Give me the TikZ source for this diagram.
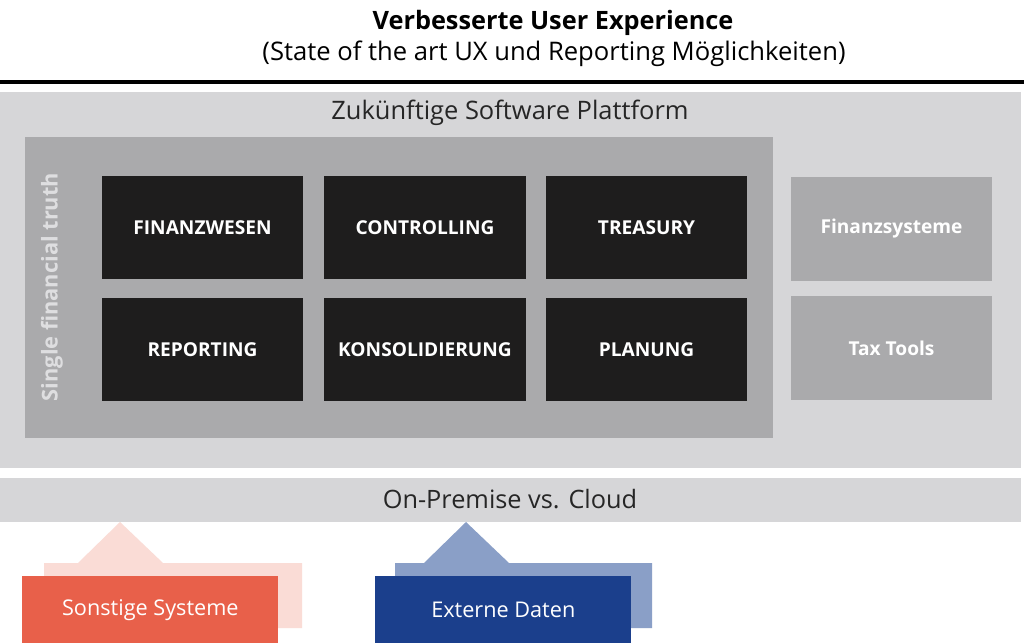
\documentclass[tikz,border=0pt]{standalone}
\usepackage{fontspec}
\setmainfont{Open Sans}
\usetikzlibrary{positioning}

\definecolor{lightgrey}{RGB}{214,214,216}
\definecolor{midgrey}{RGB}{170,170,172}
\definecolor{boxblack}{RGB}{30,29,29}
\definecolor{truthgrey}{RGB}{222,222,224}
\definecolor{sysred}{RGB}{232,96,74}
\definecolor{syspale}{RGB}{250,220,214}
\definecolor{datblue}{RGB}{27,63,140}
\definecolor{datpale}{RGB}{138,159,199}

\tikzset{
    modul/.style={fill=boxblack, text=white, font=\fontsize{13.6}{15}\selectfont\bfseries,
        minimum width=5.025cm, minimum height=2.575cm, inner sep=0pt},
    nebensys/.style={fill=midgrey, text=white, font=\fontsize{13.6}{15}\selectfont\bfseries,
        minimum width=5.025cm, minimum height=2.6cm, inner sep=0pt},
    quelle/.style={text=white, font=\fontsize{15.4}{17}\selectfont,
        minimum width=6.4cm, minimum height=1.7cm, inner sep=0pt, anchor=north west}
}

\begin{document}
\begin{tikzpicture}[x=0.025cm, y=-0.025cm]
    \useasboundingbox[fill=white] (0,0) rectangle (1024,643);

    % Headline
    \node[font=\fontsize{18}{20}\selectfont\bfseries] (titel) at (553,23) {Verbesserte User Experience};
    \node[font=\fontsize{18.2}{20}\selectfont] (untertitel) at (554,54) {(State of the art UX und Reporting Möglichkeiten)};
    \draw[line width=2.2pt] (0,82) -- (1024,82);

    % Platform
    \fill[lightgrey] (0,92) rectangle (1021,468);
    \node[font=\fontsize{18.1}{20}\selectfont, text=black!85] (plattform) at (510,113) {Zukünftige Software Plattform};
    \fill[midgrey] (25,137) rectangle (773,438);
    \node[rotate=90, text=truthgrey, font=\fontsize{15.5}{17}\selectfont\bfseries] (truth) at (52,287) {Single financial truth};

    % Modules
    \node[modul] (finanz) at (202.5,227.5) {FINANZWESEN};
    \node[modul] (contr) at (425,227.5) {CONTROLLING};
    \node[modul] (treas) at (646.5,227.5) {TREASURY};
    \node[modul] (report) at (202.5,349.5) {REPORTING};
    \node[modul] (kons) at (425,349.5) {KONSOLIDIERUNG};
    \node[modul] (plan) at (646.5,349.5) {PLANUNG};

    % Side systems
    \node[nebensys] (finsys) at (891.5,229) {Finanzsysteme};
    \node[nebensys] (tax) at (891.5,348) {Tax Tools};

    % Deployment bar
    \fill[lightgrey] (0,478) rectangle (1021,522);
    \node[font=\fontsize{18}{20}\selectfont, text=black!85] (deploy) at (510,499) {On-Premise vs. Cloud};

    % Sources
    \fill[syspale] (44,563) -- (78,563) -- (120,522) -- (163,563) -- (302,563) -- (302,628) -- (44,628) -- cycle;
    \node[quelle, fill=sysred] (sonstige) at (22,576) {Sonstige Systeme};

    \fill[datpale] (395,563) -- (424,563) -- (466,522) -- (509,563) -- (652,563) -- (652,628) -- (395,628) -- cycle;
    \node[quelle, fill=datblue] (extern) at (375,576) {Externe Daten};
\end{tikzpicture}
\end{document}
